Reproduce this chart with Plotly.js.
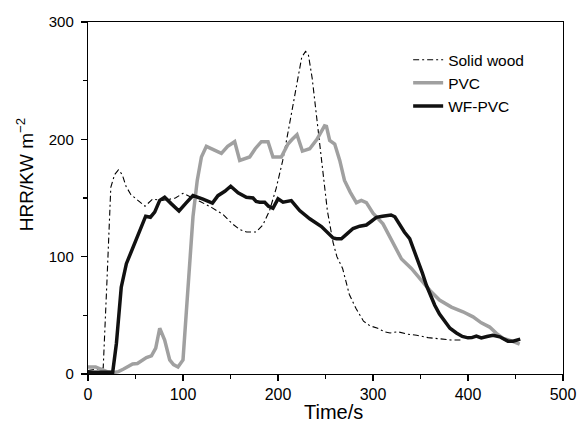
<!DOCTYPE html>
<html>
<head>
<meta charset="utf-8">
<script src="https://cdn.plot.ly/plotly-3.0.1.min.js"></script>
<style>html,body{margin:0;padding:0;background:#fff;}#chart{width:577px;height:424px;}</style>
</head>
<body>
<div id="chart"></div>
<script>
// Solid wood
const woodTime = [0,10,16,20,24,28,32,36,40,45,52,60,68,78,86,92,100,108,118,130,142,152,160,167,177,184,191,198,205,211,216,221,225,229,232,236,240,244,248,252,258,262,268,275,282,290,297,305,312,318,326,336,346,358,370,382,392];
const woodHRR  = [3,4,5,80,159,170,174,170,160,153,148,143,149,148,149,150,154,151,147,142,136,128,123,121,121,127,139,158,182,208,230,255,270,275,272,252,224,195,163,139,112,100,90,68,56,45,41,39,36,35,36,34,33,31,30,29,29];
// PVC
const pvcTime = [0,8,14,20,26,32,37,42,47,52,57,61.5,66.8,71.3,75.5,80.7,86,90,94.7,100,103.6,107,110.5,115,119.4,124.6,132,140.4,147,154.4,159.7,170.2,176,182.5,189.5,194.7,203.5,210.5,215,220,225.7,233.4,241,245,249,251,254.4,259.7,265,270,276,282.5,287.7,293,300,310.5,321,330,340.4,351,359.7,370,382.5,394.7,405.3,414,422.8,429.9,437,445.7,454.4];
const pvcHRR  = [6,6,4,2,1,2,4,6,8.5,9,12,14,15.5,22,39,29,12,8,6,12,54,95,134,165,185,194,191,188,194,198,182,185,192,198,198,185,185,196,200,204,190,192,200,206,211.5,211,199,196,182,165,155,146,148,146,137,128,111,98,90,80,71.4,63,57,53,48.7,43.6,40,34.6,30.3,28.3,25.5];
// WF-PVC
const wfTime = [0,10,20,26,29.9,35,40.4,45,49,54.4,60.7,65.7,70.2,75.5,80.7,87.8,95.8,103.6,110.5,121,131,136.8,144,150.2,158,166.7,173.7,177,180.7,186,190,194.7,200,205.3,214,222.8,233.4,245.7,253.7,258,261.5,266.7,272,279,286,293,298,303.6,310,319,323,328,333,338.6,343,347.4,352,356.2,361,365,370,375.5,381,387.8,394,400,404,408.8,414,420,426.3,433.4,437,442,447.4,452,455];
const wfHRR  = [1.5,1.5,1.5,1.5,26,74,94,103,111,122,134.5,133.6,138,148,150.6,145,139,146,152,149,145.6,152,155.7,160,154.4,150.6,150,147,146.4,146.4,143,141.3,149.3,146.4,147.8,139.3,132.3,125.7,120,116,115.3,115.3,119,124,126,127,130,133.5,134.5,135.5,134,127,121,115.3,106,97,86,75.6,66,58.6,51,44.4,39,35,32,30.8,31,32.3,30.8,32,33,31.7,30,28,28,29,29.7];

const seriesNames = ["Solid wood","PVC","WF-PVC"];
const xTitle = "Time/s";
const yTitle = "HRR/KW m<sup>\u22122</sup>";

const FONT = "Liberation Sans, Arial, Helvetica, sans-serif";

const traces = [
  {x: woodTime, y: woodHRR, name: seriesNames[0], mode: "lines",
   line: {color: "#000", width: 1.1, dash: "6px,3px,2px,3px"}},
  {x: pvcTime, y: pvcHRR, name: seriesNames[1], mode: "lines",
   line: {color: "#a0a0a0", width: 3.5}},
  {x: wfTime, y: wfHRR, name: seriesNames[2], mode: "lines",
   line: {color: "#111", width: 3.5}}
];

const axisCommon = {
  showgrid: false, zeroline: false, showline: true, linecolor: "#000", linewidth: 1.2,
  mirror: true, ticks: "outside", ticklen: 6, tickwidth: 1.2, tickcolor: "#000",
  minor: {ticks: "outside", ticklen: 3.5, tickwidth: 1.2, tickcolor: "#000"}
};

const layout = {
  width: 577, height: 424,
  margin: {l: 88, r: 14, t: 22, b: 50},
  paper_bgcolor: "#fff", plot_bgcolor: "#fff",
  font: {family: FONT, color: "#000"},
  showlegend: true,
  legend: {x: 0.674, y: 0.94, xanchor: "left", yanchor: "top", bgcolor: "rgba(0,0,0,0)",
           font: {size: 15.5, family: FONT}, borderwidth: 0, tracegroupgap: 0},
  xaxis: Object.assign({}, axisCommon, {
    range: [0, 500], dtick: 100, tick0: 0, tickfont: {size: 16},
    minor: Object.assign({}, axisCommon.minor, {dtick: 50})
  }),
  yaxis: Object.assign({}, axisCommon, {
    range: [0, 300], dtick: 100, tick0: 0, tickfont: {size: 15}, ticklabelstandoff: 4,
    minor: Object.assign({}, axisCommon.minor, {dtick: 50})
  }),
  annotations: [
    {text: xTitle, xref: "paper", yref: "paper", x: 0.516, y: -0.108,
     xanchor: "center", yanchor: "middle", showarrow: false, font: {size: 20}},
    {text: yTitle, xref: "paper", yref: "paper", x: -0.1326, y: 0.565, textangle: -90,
     xanchor: "center", yanchor: "middle", showarrow: false, font: {size: 19}}
  ]
};

Plotly.newPlot("chart", traces, layout, {displayModeBar: false, staticPlot: true});
</script>
</body>
</html>
